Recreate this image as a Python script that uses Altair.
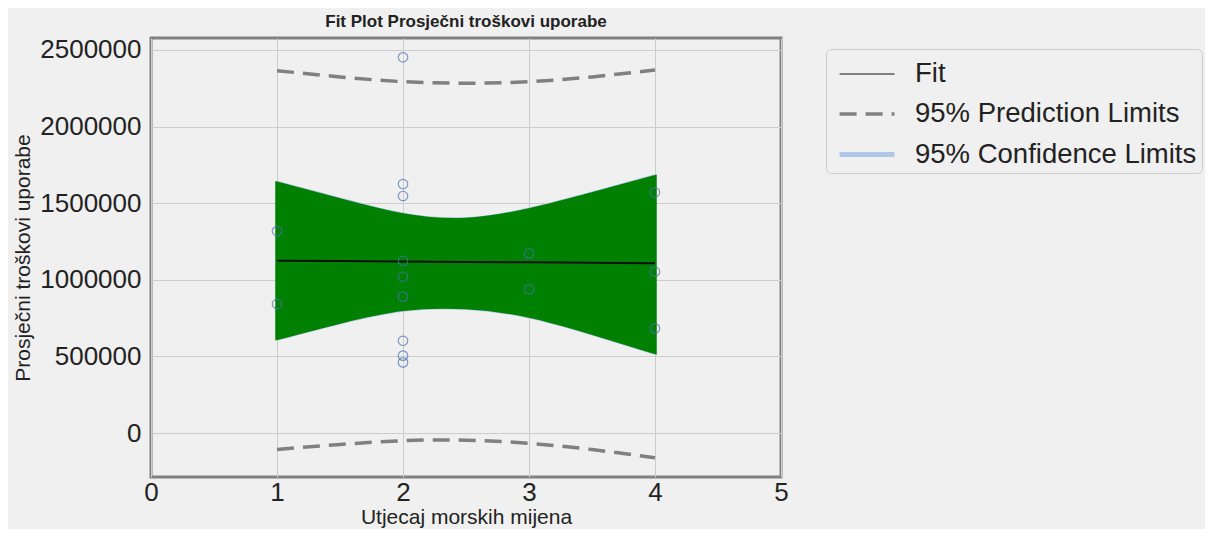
import altair as alt
import pandas as pd

# Observed data
x_obs = [1, 1, 2, 2, 2, 2, 2, 2, 2, 2, 2, 3, 3, 4, 4, 4]
y_obs = [1318000, 842000, 2452000, 1625000, 1547000, 1123000, 1020000, 890000,
         602000, 505000, 461000, 1172000, 938000, 1571000, 1053000, 683000]

# Curves read at these x positions
grid_x = [1, 1.5, 2, 2.5, 3, 3.5, 4]
fit_y = [1125000, 1122000, 1119000, 1116000, 1114000, 1111000, 1108000]
ci_upper = [1630000, 1521000, 1423000, 1393000, 1456000, 1560000, 1673000]
ci_lower = [618000, 725000, 807000, 819000, 764000, 653000, 527000]
pi_upper = [2365000, 2324000, 2293000, 2283000, 2293000, 2324000, 2370000]
pi_lower = [-107000, -75000, -50000, -47000, -67000, -108000, -161000]

series = ["Fit", "95% Prediction Limits", "95% Confidence Limits"]
series_colors = ["#808080", "#808080", "#aec7e8"]
series_dash = [[1, 0], [17, 9], [1, 0]]
series_width = [2, 5, 5]

y_ticks = [0, 500000, 1000000, 1500000, 2000000, 2500000]
x_ticks = [0, 1, 2, 3, 4, 5]

FONT = "Liberation Sans"

rows = []
for i, xv in enumerate(grid_x):
    rows.append({"x": xv, "y": fit_y[i], "series": series[0], "part": "fit"})
    rows.append({"x": xv, "y": pi_upper[i], "series": series[1], "part": "pi_u"})
    rows.append({"x": xv, "y": pi_lower[i], "series": series[1], "part": "pi_l"})
    rows.append({"x": xv, "y": ci_upper[i], "series": series[2], "part": "ci_u"})
    rows.append({"x": xv, "y": ci_lower[i], "series": series[2], "part": "ci_l"})
lines_df = pd.DataFrame(rows)
band_df = pd.DataFrame({"x": grid_x, "lo": ci_lower, "hi": ci_upper, "fit": fit_y})
pts_df = pd.DataFrame({"x": x_obs, "y": y_obs})

x_scale = alt.Scale(domain=[0, 5], nice=False, zero=False)
y_scale = alt.Scale(domain=[-287000, 2578000], nice=False, zero=False)

x_axis = alt.Axis(values=x_ticks, format="d", labelFontSize=26, labelColor="#222222",
                  domain=False, ticks=False, labelPadding=2, labelFlush=False,
                  gridColor="#cccccc",
                  title="Utjecaj morskih mijena", titleFontSize=21,
                  titleFontWeight="normal", titleColor="#222222", titlePadding=1)
y_axis = alt.Axis(values=y_ticks, format="d", labelFontSize=26, labelColor="#222222",
                  domain=False, ticks=False, labelPadding=10, labelFlush=False,
                  gridColor="#cccccc",
                  title="Prosječni troškovi uporabe", titleFontSize=21,
                  titleFontWeight="normal", titleColor="#222222", titlePadding=6)

legend = alt.Legend(title=None, orient="none", legendX=675, legendY=11,
                    symbolType="M-0.68,0H2.21", symbolSize=1444, labelFontSize=27.5,
                    labelColor="#222222", labelFont=FONT, strokeColor="#cccccc",
                    fillColor="#f0f0f0", cornerRadius=5, padding=5,
                    rowPadding=5, labelOffset=41, labelLimit=400)

legend_lines = alt.Chart(lines_df).mark_line(interpolate="natural").encode(
    x=alt.X("x:Q", scale=x_scale, axis=x_axis),
    y=alt.Y("y:Q", scale=y_scale, axis=y_axis),
    color=alt.Color("series:N", title=None,
                    scale=alt.Scale(domain=series, range=series_colors), legend=legend),
    strokeDash=alt.StrokeDash("series:N", title=None,
                              scale=alt.Scale(domain=series, range=series_dash), legend=legend),
    strokeWidth=alt.StrokeWidth("series:N", title=None,
                                scale=alt.Scale(domain=series, range=series_width), legend=legend),
    detail="part:N",
)

band = alt.Chart(band_df).mark_area(color="#008000", stroke="#008000", strokeWidth=3.5,
                                    interpolate="natural", opacity=1).encode(
    x=alt.X("x:Q", scale=x_scale),
    y=alt.Y("lo:Q", scale=y_scale),
    y2="hi:Q",
)

fit_line = alt.Chart(band_df).mark_line(color="#111111", strokeWidth=2).encode(
    x=alt.X("x:Q", scale=x_scale),
    y=alt.Y("fit:Q", scale=y_scale),
)

points = alt.Chart(pts_df).mark_point(shape="circle", filled=False, color="#4c72b0",
                                      size=90, strokeWidth=1.2).encode(
    x=alt.X("x:Q", scale=x_scale),
    y=alt.Y("y:Q", scale=y_scale),
)

chart = alt.layer(legend_lines, band, fit_line, points).properties(
    width=630, height=439,
    autosize=alt.AutoSizeParams(type="none"),
    padding={"left": 143, "top": 30, "right": 424, "bottom": 52},
    background="#f0f0f0",
    title=alt.TitleParams("Fit Plot Prosječni troškovi uporabe", fontSize=17,
                          fontWeight="bold", font=FONT, color="#222222",
                          anchor="middle", offset=6),
).configure(font=FONT).configure_view(
    stroke="#808080", strokeWidth=3
)

chart.save("out.html", embed_options={"renderer": "svg", "actions": False})
